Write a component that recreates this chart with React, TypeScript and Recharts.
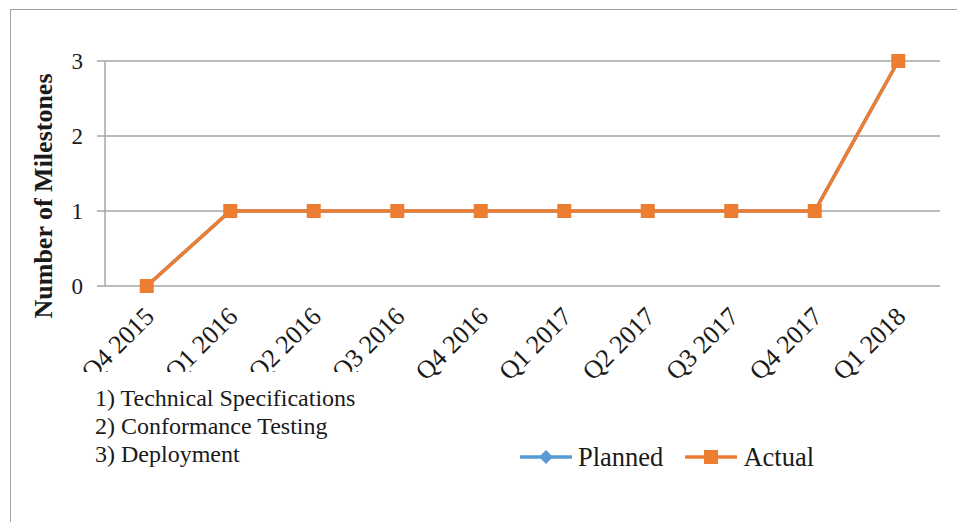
import { LineChart, Line, XAxis, YAxis, CartesianGrid } from 'recharts';

const quarters = ['Q4 2015', 'Q1 2016', 'Q2 2016', 'Q3 2016', 'Q4 2016', 'Q1 2017', 'Q2 2017', 'Q3 2017', 'Q4 2017', 'Q1 2018'];
const planned = [0, 1, 1, 1, 1, 1, 1, 1, 1, 3];
const actual = [0, 1, 1, 1, 1, 1, 1, 1, 1, 3];
const yTicks = [0, 1, 2, 3];
const notes = ['1) Technical Specifications', '2) Conformance Testing', '3) Deployment'];

const series = [
  { key: 'planned', name: 'Planned', color: '#5B9BD5', marker: 'diamond' },
  { key: 'actual', name: 'Actual', color: '#ED7D31', marker: 'square' },
];

const data = quarters.map((q, i) => ({ idx: i, quarter: q, planned: planned[i], actual: actual[i] }));
const centerTicks = quarters.map((_, i) => i);
const edgeTicks = [...quarters.map((_, i) => i - 0.5), quarters.length - 0.5];

const FONT = '"Liberation Serif", "Times New Roman", serif';
const GRID = '#A6A6A6';

function Marker({ type, cx, cy, color, size = 14 }: any) {
  const h = size / 2;
  if (type === 'diamond') {
    return <path d={`M${cx},${cy - h} L${cx + h},${cy} L${cx},${cy + h} L${cx - h},${cy} Z`} fill={color} />;
  }
  return <rect x={cx - h} y={cy - h} width={size} height={size} fill={color} />;
}

const QuarterTick = ({ x, y, payload }: any) => {
  const ex = x + 9;
  const ey = y + 32;
  return (
    <text x={ex} y={ey} textAnchor="end" transform={`rotate(-45 ${ex} ${ey})`}
      fontFamily={FONT} fontSize={26} fill="#1a1a1a">
      {quarters[payload.value]}
    </text>
  );
};

export default function App() {
  return (
    <div style={{ position: 'fixed', left: 0, top: 0, width: 957, height: 522, background: '#fff', overflow: 'hidden' }}>
      <div style={{ position: 'absolute', left: 10, top: 9, width: 1000, height: 600, borderLeft: '1.5px solid #A0A0A0', borderTop: '1.5px solid #A0A0A0' }} />
      <div style={{ position: 'absolute', left: 0, top: 0 }}>
        <LineChart width={957} height={522} data={data} margin={{ top: 61, right: 17, left: 45, bottom: 156 }}>
          <CartesianGrid vertical={false} stroke={GRID} strokeWidth={1.5} />
          <XAxis xAxisId="edges" dataKey="idx" type="number" domain={[-0.5, quarters.length - 0.5]}
            ticks={edgeTicks} tick={false} height={0} tickSize={6} stroke={GRID} strokeWidth={1.5}
            allowDataOverflow interval={0} />
          <XAxis xAxisId="main" dataKey="idx" type="number" domain={[-0.5, quarters.length - 0.5]}
            ticks={centerTicks} tick={<QuarterTick />} height={80} axisLine={false} tickLine={false}
            tickSize={0} tickMargin={0} interval={0} />
          <YAxis domain={[0, 3]} ticks={yTicks} width={60} stroke={GRID} strokeWidth={1.5} tickSize={8} tickMargin={14}
            tick={{ fontFamily: FONT, fontSize: 23, fill: '#1a1a1a' }}
            label={() => (
              <text x={43} y={196} transform="rotate(-90 43 196)" textAnchor="middle" dominantBaseline="central"
                fontFamily={FONT} fontWeight="bold" fontSize={26} fill="#1a1a1a">Number of Milestones</text>
            )} />
          {series.map((s) => (
            <Line key={s.key} xAxisId="main" dataKey={s.key} name={s.name} stroke={s.color} strokeWidth={3.5}
              isAnimationActive={false}
              dot={(p: any) => <Marker key={`${s.key}-${p.index}`} type={s.marker} cx={p.cx} cy={p.cy} color={s.color} />}
              activeDot={false} />
          ))}
        </LineChart>
      </div>
      <div style={{ position: 'absolute', left: 82, top: 372, width: 330, height: 110, background: '#fff',
        paddingLeft: 13, paddingTop: 12, boxSizing: 'border-box', fontFamily: FONT, fontSize: 24, lineHeight: '28px', color: '#1a1a1a' }}>
        {notes.map((n) => <div key={n} style={{ whiteSpace: 'nowrap' }}>{n}</div>)}
      </div>
      <div style={{ position: 'absolute', left: 520, top: 442, display: 'flex', alignItems: 'center',
        fontFamily: FONT, fontSize: 26.5, lineHeight: '30px', color: '#1a1a1a' }}>
        {series.map((s) => (
          <div key={s.key} style={{ display: 'flex', alignItems: 'center', marginRight: 22 }}>
            <svg width={52} height={20} style={{ marginRight: 6 }}>
              <line x1={1} y1={10} x2={51} y2={10} stroke={s.color} strokeWidth={3.5} strokeLinecap="round" />
              <Marker type={s.marker} cx={26} cy={10} color={s.color} />
            </svg>
            <span>{s.name}</span>
          </div>
        ))}
      </div>
    </div>
  );
}
